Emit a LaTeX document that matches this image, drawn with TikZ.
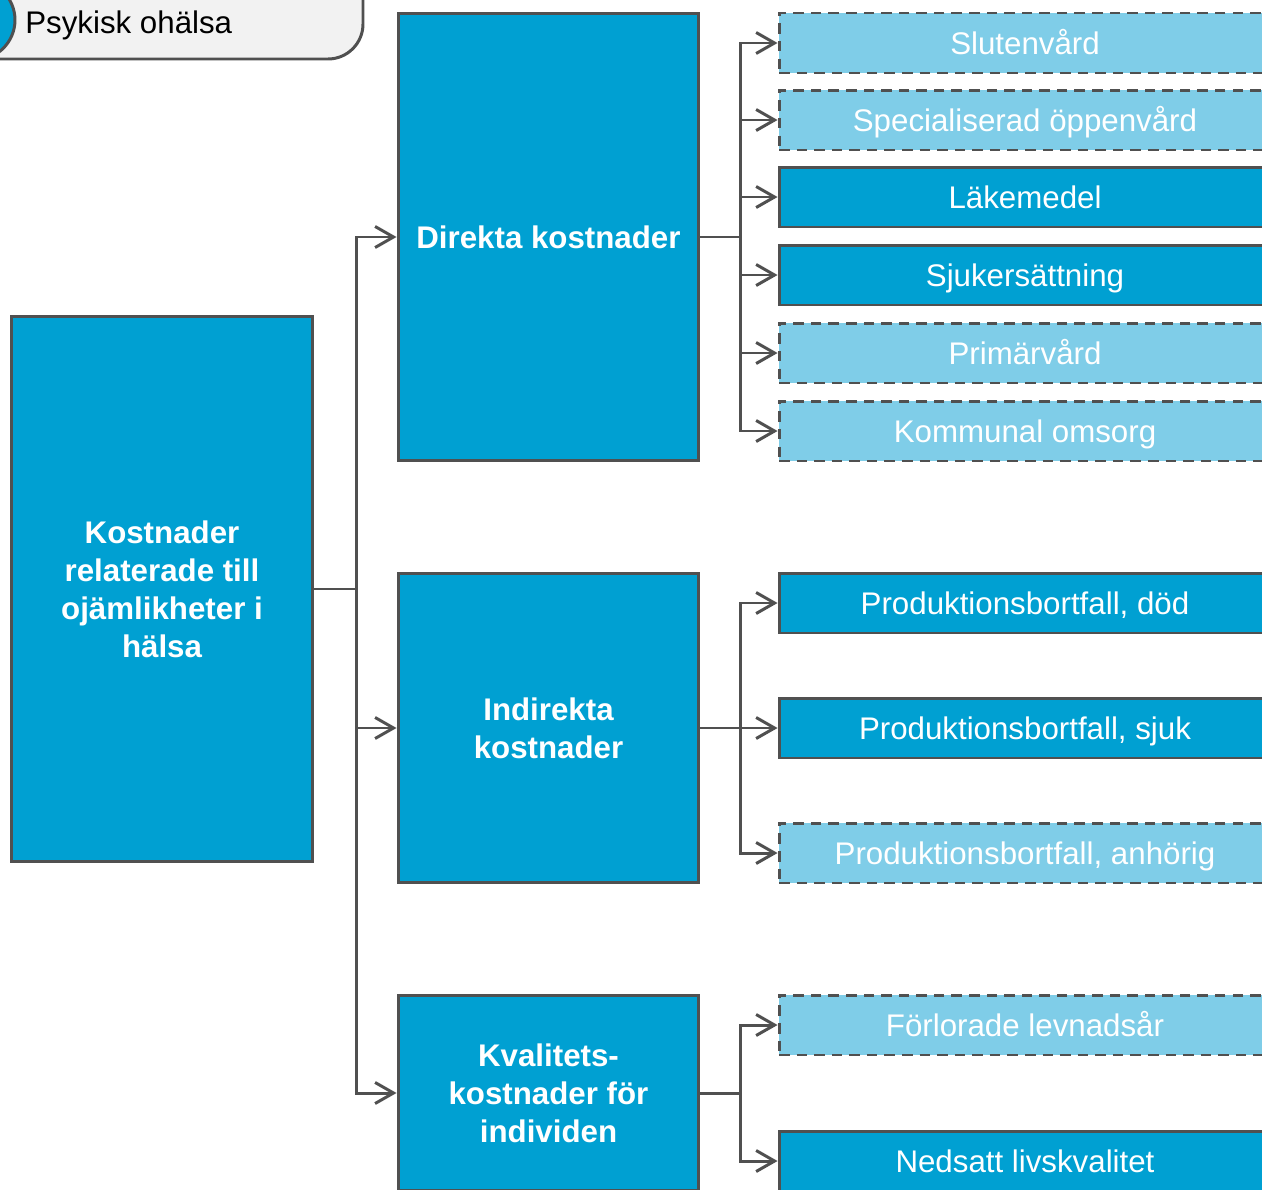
\documentclass[tikz,border=0pt]{standalone}
\usepackage{fontspec}
\setmainfont{Liberation Sans}
\usetikzlibrary{arrows.meta,positioning}
\definecolor{costblue}{HTML}{00A0D2}
\definecolor{costlight}{HTML}{7FCDE8}
\definecolor{costgrey}{HTML}{505050}
\definecolor{pillgrey}{HTML}{F2F2F2}

\begin{document}
\begin{tikzpicture}[x=0.02cm,y=-0.02cm,
  link/.style={draw=costgrey,line width=1.7pt},
  arr/.style={link,-{Straight Barb[length=10.5pt,width=12pt,line width=1.7pt]}},
  costbox/.style={draw=costgrey,line width=1.7pt,fill=costblue,text=white,
    font=\fontsize{17.8}{21.6}\selectfont\bfseries,align=center,inner sep=0pt,
    minimum width=6.02cm},
  itembox/.style={draw=costgrey,line width=1.7pt,fill=costblue,text=white,
    font=\fontsize{17.8}{21.6}\selectfont,inner sep=0pt,
    text height=13pt,text depth=0pt,
    minimum width=9.84cm,minimum height=1.2cm},
  dashbox/.style={itembox,fill=costlight,dash pattern=on 6pt off 4pt}
]
  \useasboundingbox (0,0) rectangle (1262,1190);
  \clip (0,0) rectangle (1262,1190);

  % Legend
  \draw[link,fill=pillgrey,rounded corners=0.7cm] (-80,-60) rectangle (363,59);
  \draw[link,fill=costblue] (-25,20) circle [radius=0.8cm];
  \node[anchor=base west,inner sep=0pt,font=\fontsize{17.8}{21.6}\selectfont] (legend) at (25,33) {Psykisk ohälsa};

  % Cost groups
  \node[costbox,minimum width=6.04cm,minimum height=10.92cm] (main) at (162,589)
    {Kostnader\\relaterade till\\ojämlikheter i\\hälsa};
  \node[costbox,minimum height=8.96cm] (direct) at (548.5,237) {Direkta kostnader};
  \node[costbox,minimum height=6.2cm] (indirect) at (548.5,728) {Indirekta\\kostnader};
  \node[costbox,minimum height=3.92cm] (quality) at (548.5,1093) {Kvalitets-\\kostnader för\\individen};

  % Cost items
  \node[dashbox] (slut) at (1025,43) {Slutenvård};
  \node[dashbox] (spec) at (1025,120) {Specialiserad öppenvård};
  \node[itembox] (lake) at (1025,197) {Läkemedel};
  \node[itembox] (sjuk) at (1025,275) {Sjukersättning};
  \node[dashbox] (prim) at (1025,353) {Primärvård};
  \node[dashbox] (komm) at (1025,431) {Kommunal omsorg};
  \node[itembox] (proddod) at (1025,603) {Produktionsbortfall, död};
  \node[itembox] (prodsjuk) at (1025,728) {Produktionsbortfall, sjuk};
  \node[dashbox] (prodanh) at (1025,853) {Produktionsbortfall, anhörig};
  \node[dashbox] (forl) at (1025,1025) {Förlorade levnadsår};
  \node[itembox] (nedsatt) at (1025,1161) {Nedsatt livskvalitet};

  % Connectors
  \draw[link] (main.east) -- ++(42,0) coordinate (trunk);
  \foreach \n in {direct,indirect,quality}
    \draw[arr] (trunk) |- (\n.west);
  \draw[link] (direct.east) -- ++(40,0) coordinate (dfork);
  \foreach \n in {slut,spec,lake,sjuk,prim,komm}
    \draw[arr] (dfork) |- (\n.west);
  \draw[link] (indirect.east) -- ++(40,0) coordinate (ifork);
  \foreach \n in {proddod,prodsjuk,prodanh}
    \draw[arr] (ifork) |- (\n.west);
  \draw[link] (quality.east) -- ++(40,0) coordinate (qfork);
  \foreach \n in {forl,nedsatt}
    \draw[arr] (qfork) |- (\n.west);
\end{tikzpicture}
\end{document}
